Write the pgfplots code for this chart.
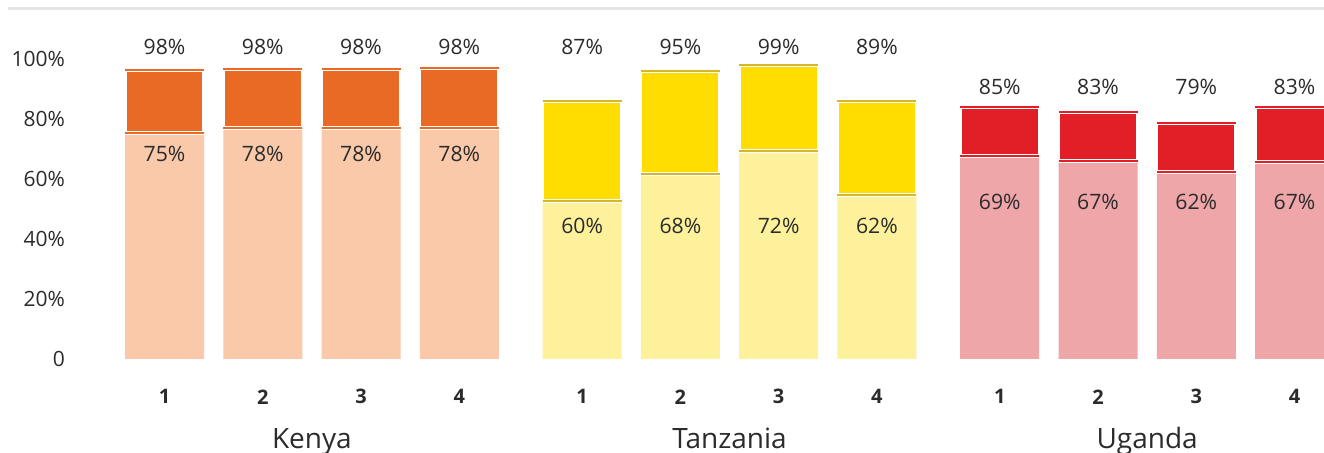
\documentclass[border=0pt]{standalone}
\usepackage{fontspec}
\setmainfont{Open Sans}
\usepackage{pgfplots}
\usepackage{pgfplotstable}
\pgfplotsset{compat=1.18}

\definecolor{KeDark}{HTML}{E96A25}
\definecolor{KeLight}{HTML}{F9C9A9}
\definecolor{TzDark}{HTML}{FFDD00}
\definecolor{TzLight}{HTML}{FEF19B}
\definecolor{TzCap}{HTML}{D6B72B}
\definecolor{UgDark}{HTML}{E21F27}
\definecolor{UgLight}{HTML}{EEA6A9}
\definecolor{LabelGray}{HTML}{2B2B2B}
\definecolor{TopRule}{HTML}{E6E6E6}

% x = bar position, low = light segment top, total = dark segment top (percent)
\pgfplotstableread{
x    low   total
0    75.3  96.2
1    77.0  96.6
2    77.0  96.6
3    77.0  96.8
}\kenya
\pgfplotstableread{
x    low   total
4.25 52.6  85.9
5.25 61.6  95.9
6.25 69.3  98.0
7.25 54.6  85.9
}\tanzania
\pgfplotstableread{
x    low   total
8.5  67.6  83.9
9.5  66.0  82.3
10.5 62.3  78.6
11.5 65.7  83.9
}\uganda

\pgfplotsset{
  seg/.style={ybar, bar width=0.804, bar shift=0pt},
  capgap/.style={only marks, mark=-, mark size=19.75bp, color=white, mark options={line width=2bp}},
  cap/.style={only marks, mark=-, mark size=19.75bp, color=#1, mark options={line width=1bp}},
  lbl/.style={draw=none, nodes near coords, point meta=explicit symbolic,
    every node near coord/.append style={anchor=center, text=LabelGray,
      font=\fontsize{10.6bp}{12bp}\selectfont}},
}

\begin{document}
\begin{tikzpicture}
\useasboundingbox (-55bp,-47.1bp) rectangle (607bp,179.4bp);
\begin{axis}[
    scale only axis,
    width=607bp, height=175bp,
    xmin=-0.5547, xmax=11.80,
    ymin=0, ymax=116.67,
    clip=false,
    axis line style={draw=none},
    major tick length=0pt,
    ytick={0,20,40,60,80,100},
    yticklabels={0,20\%,40\%,60\%,80\%,100\%},
    yticklabel style={anchor=east, xshift=-19bp, text=LabelGray,
      font=\fontsize{10.5bp}{12bp}\selectfont},
    xtick={0,1,2,3,4.25,5.25,6.25,7.25,8.5,9.5,10.5,11.5},
    xticklabels={1,2,3,4,1,2,3,4,1,2,3,4},
    xticklabel style={anchor=center, yshift=-19bp, text=LabelGray,
      font=\bfseries\fontsize{10bp}{12bp}\selectfont},
]
% Kenya
\addplot[seg, fill=KeDark, draw=white, line width=1.6bp] table[x=x, y=total] {\kenya};
\addplot[seg, fill=KeLight, draw=none] table[x=x, y=low] {\kenya};
\addplot[capgap] table[x=x, y=low] {\kenya};
\addplot[capgap] table[x=x, y=total] {\kenya};
\addplot[cap=KeDark] table[x=x, y=low] {\kenya};
\addplot[cap=KeDark] table[x=x, y=total] {\kenya};
% Tanzania
\addplot[seg, fill=TzDark, draw=white, line width=1.6bp] table[x=x, y=total] {\tanzania};
\addplot[seg, fill=TzLight, draw=none] table[x=x, y=low] {\tanzania};
\addplot[capgap] table[x=x, y=low] {\tanzania};
\addplot[capgap] table[x=x, y=total] {\tanzania};
\addplot[cap=TzCap] table[x=x, y=low] {\tanzania};
\addplot[cap=TzCap] table[x=x, y=total] {\tanzania};
% Uganda
\addplot[seg, fill=UgDark, draw=white, line width=1.6bp] table[x=x, y=total] {\uganda};
\addplot[seg, fill=UgLight, draw=none] table[x=x, y=low] {\uganda};
\addplot[capgap] table[x=x, y=low] {\uganda};
\addplot[capgap] table[x=x, y=total] {\uganda};
\addplot[cap=UgDark] table[x=x, y=low] {\uganda};
\addplot[cap=UgDark] table[x=x, y=total] {\uganda};

% data labels
\addplot[lbl] coordinates {
  (0,103.9) [98\%] (1,103.9) [98\%] (2,103.9) [98\%] (3,103.9) [98\%]
  (4.25,103.9) [87\%] (5.25,103.9) [95\%] (6.25,103.9) [99\%] (7.25,103.9) [89\%]
  (8.5,90.7) [85\%] (9.5,90.7) [83\%] (10.5,90.7) [79\%] (11.5,90.7) [83\%]
};
\addplot[lbl] coordinates {
  (0,68.4) [75\%] (1,68.4) [78\%] (2,68.4) [78\%] (3,68.4) [78\%]
  (4.25,44.3) [60\%] (5.25,44.3) [68\%] (6.25,44.3) [72\%] (7.25,44.3) [62\%]
  (8.5,52.3) [69\%] (9.5,52.3) [67\%] (10.5,52.3) [62\%] (11.5,52.3) [67\%]
};

\draw[TopRule, line width=1.5bp] (rel axis cs:-0.084,1) -- (rel axis cs:1,1);
\node[anchor=base, yshift=-44.75bp, text=LabelGray, font=\fontsize{14bp}{16bp}\selectfont]
  at (axis cs:1.5,0) {Kenya};
\node[anchor=base, yshift=-44.75bp, text=LabelGray, font=\fontsize{14bp}{16bp}\selectfont]
  at (axis cs:5.75,0) {Tanzania};
\node[anchor=base, yshift=-44.75bp, text=LabelGray, font=\fontsize{14bp}{16bp}\selectfont]
  at (axis cs:10,0) {Uganda};
\end{axis}
\end{tikzpicture}
\end{document}
